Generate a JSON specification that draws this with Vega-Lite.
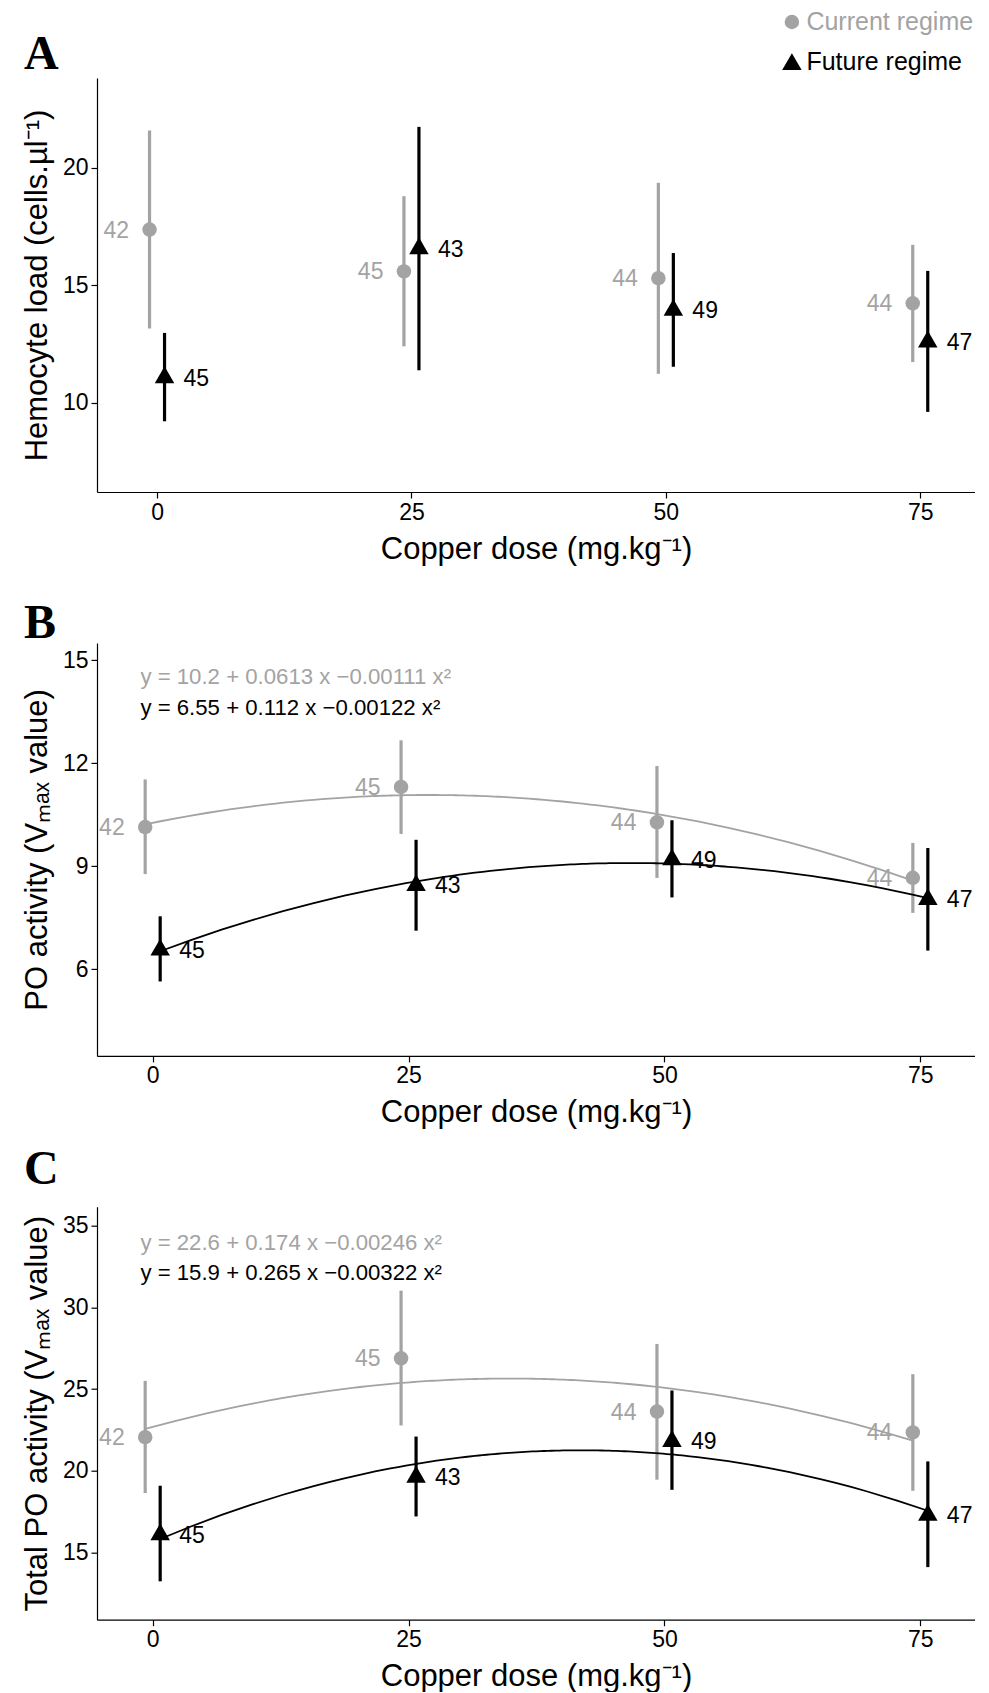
{
  "$schema": "https://vega.github.io/schema/vega-lite/v6.json",
  "padding": {"left": 21, "top": 9, "right": 0, "bottom": 0},
  "background": "white",
  "config": {
    "view": {"stroke": null},
    "font": "Liberation Sans",
    "axis": {"grid": false, "domainColor": "black", "domainWidth": 1.2, "tickColor": "black", "tickWidth": 1.2, "tickSize": 6, "labelColor": "black", "labelFont": "Liberation Sans", "labelFontSize": 23, "titleFont": "Liberation Sans", "titleFontSize": 31, "titleFontWeight": "normal", "titleColor": "black", "labelPadding": 3},
    "axisX": {"titlePadding": 10, "labelFlush": false},
    "axisY": {"titlePadding": 8.5},
    "title": {"font": "Liberation Serif", "fontWeight": "bold", "fontSize": 48, "anchor": "start", "frame": "bounds", "color": "black", "dx": 2}
  },
  "datasets": {
    "A": [
      {"regime": "Current regime", "dose": 0, "mean": 17.38, "lo": 13.17, "hi": 21.6, "n": 42},
      {"regime": "Current regime", "dose": 25, "mean": 15.6, "lo": 12.41, "hi": 18.8, "n": 45},
      {"regime": "Current regime", "dose": 50, "mean": 15.31, "lo": 11.24, "hi": 19.37, "n": 44},
      {"regime": "Current regime", "dose": 75, "mean": 14.24, "lo": 11.74, "hi": 16.73, "n": 44},
      {"regime": "Future regime", "dose": 0, "mean": 11.08, "lo": 9.22, "hi": 12.98, "n": 45},
      {"regime": "Future regime", "dose": 25, "mean": 16.57, "lo": 11.39, "hi": 21.75, "n": 43},
      {"regime": "Future regime", "dose": 50, "mean": 13.95, "lo": 11.54, "hi": 16.38, "n": 49},
      {"regime": "Future regime", "dose": 75, "mean": 12.6, "lo": 9.62, "hi": 15.62, "n": 47}
    ],
    "B": [
      {"regime": "Current regime", "dose": 0, "mean": 10.14, "lo": 8.77, "hi": 11.53, "n": 42},
      {"regime": "Current regime", "dose": 25, "mean": 11.31, "lo": 9.94, "hi": 12.67, "n": 45},
      {"regime": "Current regime", "dose": 50, "mean": 10.28, "lo": 8.66, "hi": 11.92, "n": 44},
      {"regime": "Current regime", "dose": 75, "mean": 8.66, "lo": 7.64, "hi": 9.68, "n": 44},
      {"regime": "Future regime", "dose": 0, "mean": 6.56, "lo": 5.64, "hi": 7.54, "n": 45},
      {"regime": "Future regime", "dose": 25, "mean": 8.44, "lo": 7.12, "hi": 9.77, "n": 43},
      {"regime": "Future regime", "dose": 50, "mean": 9.19, "lo": 8.09, "hi": 10.34, "n": 49},
      {"regime": "Future regime", "dose": 75, "mean": 8.03, "lo": 6.54, "hi": 9.53, "n": 47}
    ],
    "C": [
      {"regime": "Current regime", "dose": 0, "mean": 22.05, "lo": 18.63, "hi": 25.5, "n": 42},
      {"regime": "Current regime", "dose": 25, "mean": 26.88, "lo": 22.77, "hi": 31.02, "n": 45},
      {"regime": "Current regime", "dose": 50, "mean": 23.62, "lo": 19.45, "hi": 27.76, "n": 44},
      {"regime": "Current regime", "dose": 75, "mean": 22.34, "lo": 18.77, "hi": 25.91, "n": 44},
      {"regime": "Future regime", "dose": 0, "mean": 16.09, "lo": 13.23, "hi": 19.08, "n": 45},
      {"regime": "Future regime", "dose": 25, "mean": 19.61, "lo": 17.2, "hi": 22.09, "n": 43},
      {"regime": "Future regime", "dose": 50, "mean": 21.8, "lo": 18.83, "hi": 24.91, "n": 49},
      {"regime": "Future regime", "dose": 75, "mean": 17.28, "lo": 14.1, "hi": 20.57, "n": 47}
    ]
  },
  "concat": [
    {
      "width": 878,
      "height": 414,
      "title": {"text": "A", "offset": -1.4},
      "data": {"name": "A"},
      "encoding": {
        "x": {"field": "dose", "type": "quantitative", "scale": {"domain": [-5.9, 80.38], "nice": false, "zero": false}, "axis": {"values": [0, 25, 50, 75]}, "title": "Copper dose (mg.kg⁻¹)"},
        "y": {"field": "mean", "type": "quantitative", "scale": {"domain": [6.21, 23.83], "nice": false, "zero": false}, "axis": {"values": [10, 15, 20]}, "title": "Hemocyte load (cells.µl⁻¹)"}
      },
      "layer": [
        {"transform": [{"filter": "datum.regime === 'Current regime'"}], "mark": {"type": "rule", "color": "#A3A3A3", "strokeWidth": 3.2, "xOffset": -7.5}, "encoding": {"y": {"field": "lo", "type": "quantitative", "title": "Hemocyte load (cells.µl⁻¹)"}, "y2": {"field": "hi"}}},
        {"transform": [{"filter": "datum.regime === 'Future regime'"}], "mark": {"type": "rule", "color": "black", "strokeWidth": 3.2, "xOffset": 7.5}, "encoding": {"y": {"field": "lo", "type": "quantitative", "title": "Hemocyte load (cells.µl⁻¹)"}, "y2": {"field": "hi"}}},
        {"transform": [{"filter": "datum.regime === 'Current regime'"}], "mark": {"type": "point", "filled": true, "opacity": 1, "strokeWidth": 0, "xOffset": -7.5},
          "encoding": {
            "color": {"field": "regime", "type": "nominal", "scale": {"domain": ["Current regime", "Future regime"], "range": ["#A3A3A3", "black"]},
              "legend": {"orient": "none", "legendX": 682.4, "legendY": -68.5, "title": null, "padding": 0, "labelFont": "Liberation Sans", "labelFontSize": 25, "labelOffset": 2, "labelLimit": 400, "rowPadding": 13.6, "symbolOpacity": 1, "symbolStrokeWidth": 0,
                "encode": {"labels": {"update": {"fill": {"signal": "datum.value === 'Current regime' ? '#A3A3A3' : 'black'"}}}}}},
            "shape": {"field": "regime", "type": "nominal", "scale": {"domain": ["Current regime", "Future regime"], "range": ["circle", "triangle-up"]}},
            "size": {"field": "regime", "type": "nominal", "scale": {"type": "point", "padding": 0, "domain": ["Current regime", "Future regime"], "range": [210, 380]}}
          }},
        {"transform": [{"filter": "datum.regime === 'Future regime'"}], "mark": {"type": "point", "filled": true, "opacity": 1, "strokeWidth": 0, "xOffset": 7.5, "yOffset": -2.8},
          "encoding": {
            "color": {"field": "regime", "type": "nominal"},
            "shape": {"field": "regime", "type": "nominal"},
            "size": {"field": "regime", "type": "nominal"}
          }},
        {"transform": [{"filter": "datum.regime === 'Current regime'"}], "mark": {"type": "text", "align": "right", "baseline": "middle", "dx": -20.5, "dy": 1, "xOffset": -7.5, "fontSize": 23, "color": "#A3A3A3"}, "encoding": {"text": {"field": "n"}}},
        {"transform": [{"filter": "datum.regime === 'Future regime'"}], "mark": {"type": "text", "align": "left", "baseline": "middle", "dx": 19, "dy": 1, "xOffset": 7.5, "fontSize": 23, "color": "black"}, "encoding": {"text": {"field": "n"}}}
      ]
    },
    {
      "concat": [
        {
          "width": 878,
          "height": 413,
          "title": {"text": "B", "offset": -5.4},
          "data": {"name": "B"},
          "encoding": {
            "x": {"field": "dose", "type": "quantitative", "scale": {"domain": [-5.44, 80.34], "nice": false, "zero": false}, "axis": {"values": [0, 25, 50, 75]}, "title": "Copper dose (mg.kg⁻¹)"},
            "y": {"field": "mean", "type": "quantitative", "scale": {"domain": [3.47, 15.51], "nice": false, "zero": false}, "axis": {"values": [6, 9, 12, 15]}, "title": "PO activity (Vₘₐₓ value)"}
          },
          "layer": [
            {"transform": [{"filter": "datum.regime === 'Current regime'"}], "mark": {"type": "rule", "color": "#A3A3A3", "strokeWidth": 3.2, "xOffset": -7.5}, "encoding": {"y": {"field": "lo", "type": "quantitative", "title": "PO activity (Vₘₐₓ value)"}, "y2": {"field": "hi"}}},
            {"transform": [{"filter": "datum.regime === 'Future regime'"}], "mark": {"type": "rule", "color": "black", "strokeWidth": 3.2, "xOffset": 7.5}, "encoding": {"y": {"field": "lo", "type": "quantitative", "title": "PO activity (Vₘₐₓ value)"}, "y2": {"field": "hi"}}},
            {"transform": [{"filter": "datum.regime === 'Current regime'"}, {"regression": "mean", "on": "dose", "method": "poly", "order": 2, "extent": [0, 75]}], "mark": {"type": "line", "color": "#A3A3A3", "strokeWidth": 1.8, "xOffset": -7.5}, "encoding": {}},
            {"transform": [{"filter": "datum.regime === 'Future regime'"}, {"regression": "mean", "on": "dose", "method": "poly", "order": 2, "extent": [0, 75]}], "mark": {"type": "line", "color": "black", "strokeWidth": 1.8, "xOffset": 7.5}, "encoding": {}},
            {"transform": [{"filter": "datum.regime === 'Current regime'"}], "mark": {"type": "point", "shape": "circle", "filled": true, "size": 210, "color": "#A3A3A3", "opacity": 1, "strokeWidth": 0, "xOffset": -7.5}},
            {"transform": [{"filter": "datum.regime === 'Future regime'"}], "mark": {"type": "point", "shape": "triangle-up", "filled": true, "size": 380, "color": "black", "opacity": 1, "strokeWidth": 0, "xOffset": 7.5, "yOffset": -2.8}},
            {"transform": [{"filter": "datum.regime === 'Current regime'"}], "mark": {"type": "text", "align": "right", "baseline": "middle", "dx": -20.5, "dy": 1, "xOffset": -7.5, "fontSize": 23, "color": "#A3A3A3"}, "encoding": {"text": {"field": "n"}}},
            {"transform": [{"filter": "datum.regime === 'Future regime'"}], "mark": {"type": "text", "align": "left", "baseline": "middle", "dx": 19, "dy": 1, "xOffset": 7.5, "fontSize": 23, "color": "black"}, "encoding": {"text": {"field": "n"}}},
            {"data": {"values": [{"regime": "Current regime", "eq": "y = 10.2 + 0.0613 x −0.00111 x²", "ex": -1.2, "ey": 14.3}]}, "mark": {"type": "text", "align": "left", "baseline": "alphabetic", "fontSize": 22.2, "color": "#A3A3A3"}, "encoding": {"x": {"field": "ex", "type": "quantitative"}, "y": {"field": "ey", "type": "quantitative", "title": "PO activity (Vₘₐₓ value)"}, "text": {"field": "eq", "type": "nominal"}}},
            {"data": {"values": [{"regime": "Future regime", "eq": "y = 6.55 + 0.112 x −0.00122 x²", "ex": -1.2, "ey": 13.4}]}, "mark": {"type": "text", "align": "left", "baseline": "alphabetic", "fontSize": 22.2, "color": "black"}, "encoding": {"x": {"field": "ex", "type": "quantitative"}, "y": {"field": "ey", "type": "quantitative", "title": "PO activity (Vₘₐₓ value)"}, "text": {"field": "eq", "type": "nominal"}}}
          ]
        },
        {
          "width": 878,
          "height": 413,
          "title": {"text": "C", "offset": 12.4},
          "data": {"name": "C"},
          "encoding": {
            "x": {"field": "dose", "type": "quantitative", "scale": {"domain": [-5.44, 80.34], "nice": false, "zero": false}, "axis": {"values": [0, 25, 50, 75]}, "title": "Copper dose (mg.kg⁻¹)"},
            "y": {"field": "mean", "type": "quantitative", "scale": {"domain": [10.88, 36.16], "nice": false, "zero": false}, "axis": {"values": [15, 20, 25, 30, 35]}, "title": "Total PO activity (Vₘₐₓ value)"}
          },
          "layer": [
            {"transform": [{"filter": "datum.regime === 'Current regime'"}], "mark": {"type": "rule", "color": "#A3A3A3", "strokeWidth": 3.2, "xOffset": -7.5}, "encoding": {"y": {"field": "lo", "type": "quantitative", "title": "Total PO activity (Vₘₐₓ value)"}, "y2": {"field": "hi"}}},
            {"transform": [{"filter": "datum.regime === 'Future regime'"}], "mark": {"type": "rule", "color": "black", "strokeWidth": 3.2, "xOffset": 7.5}, "encoding": {"y": {"field": "lo", "type": "quantitative", "title": "Total PO activity (Vₘₐₓ value)"}, "y2": {"field": "hi"}}},
            {"transform": [{"filter": "datum.regime === 'Current regime'"}, {"regression": "mean", "on": "dose", "method": "poly", "order": 2, "extent": [0, 75]}], "mark": {"type": "line", "color": "#A3A3A3", "strokeWidth": 1.8, "xOffset": -7.5}, "encoding": {}},
            {"transform": [{"filter": "datum.regime === 'Future regime'"}, {"regression": "mean", "on": "dose", "method": "poly", "order": 2, "extent": [0, 75]}], "mark": {"type": "line", "color": "black", "strokeWidth": 1.8, "xOffset": 7.5}, "encoding": {}},
            {"transform": [{"filter": "datum.regime === 'Current regime'"}], "mark": {"type": "point", "shape": "circle", "filled": true, "size": 210, "color": "#A3A3A3", "opacity": 1, "strokeWidth": 0, "xOffset": -7.5}},
            {"transform": [{"filter": "datum.regime === 'Future regime'"}], "mark": {"type": "point", "shape": "triangle-up", "filled": true, "size": 380, "color": "black", "opacity": 1, "strokeWidth": 0, "xOffset": 7.5, "yOffset": -2.8}},
            {"transform": [{"filter": "datum.regime === 'Current regime'"}], "mark": {"type": "text", "align": "right", "baseline": "middle", "dx": -20.5, "dy": 1, "xOffset": -7.5, "fontSize": 23, "color": "#A3A3A3"}, "encoding": {"text": {"field": "n"}}},
            {"transform": [{"filter": "datum.regime === 'Future regime'"}], "mark": {"type": "text", "align": "left", "baseline": "middle", "dx": 19, "dy": 1, "xOffset": 7.5, "fontSize": 23, "color": "black"}, "encoding": {"text": {"field": "n"}}},
            {"data": {"values": [{"regime": "Current regime", "eq": "y = 22.6 + 0.174 x −0.00246 x²", "ex": -1.2, "ey": 33.51}]}, "mark": {"type": "text", "align": "left", "baseline": "alphabetic", "fontSize": 22.2, "color": "#A3A3A3"}, "encoding": {"x": {"field": "ex", "type": "quantitative"}, "y": {"field": "ey", "type": "quantitative", "title": "Total PO activity (Vₘₐₓ value)"}, "text": {"field": "eq", "type": "nominal"}}},
            {"data": {"values": [{"regime": "Future regime", "eq": "y = 15.9 + 0.265 x −0.00322 x²", "ex": -1.2, "ey": 31.67}]}, "mark": {"type": "text", "align": "left", "baseline": "alphabetic", "fontSize": 22.2, "color": "black"}, "encoding": {"x": {"field": "ex", "type": "quantitative"}, "y": {"field": "ey", "type": "quantitative", "title": "Total PO activity (Vₘₐₓ value)"}, "text": {"field": "eq", "type": "nominal"}}}
          ]
        }
      ],
      "columns": 1,
      "spacing": 17.8,
      "align": "none"
    }
  ],
  "columns": 1,
  "spacing": 35.9,
  "align": "none"
}
